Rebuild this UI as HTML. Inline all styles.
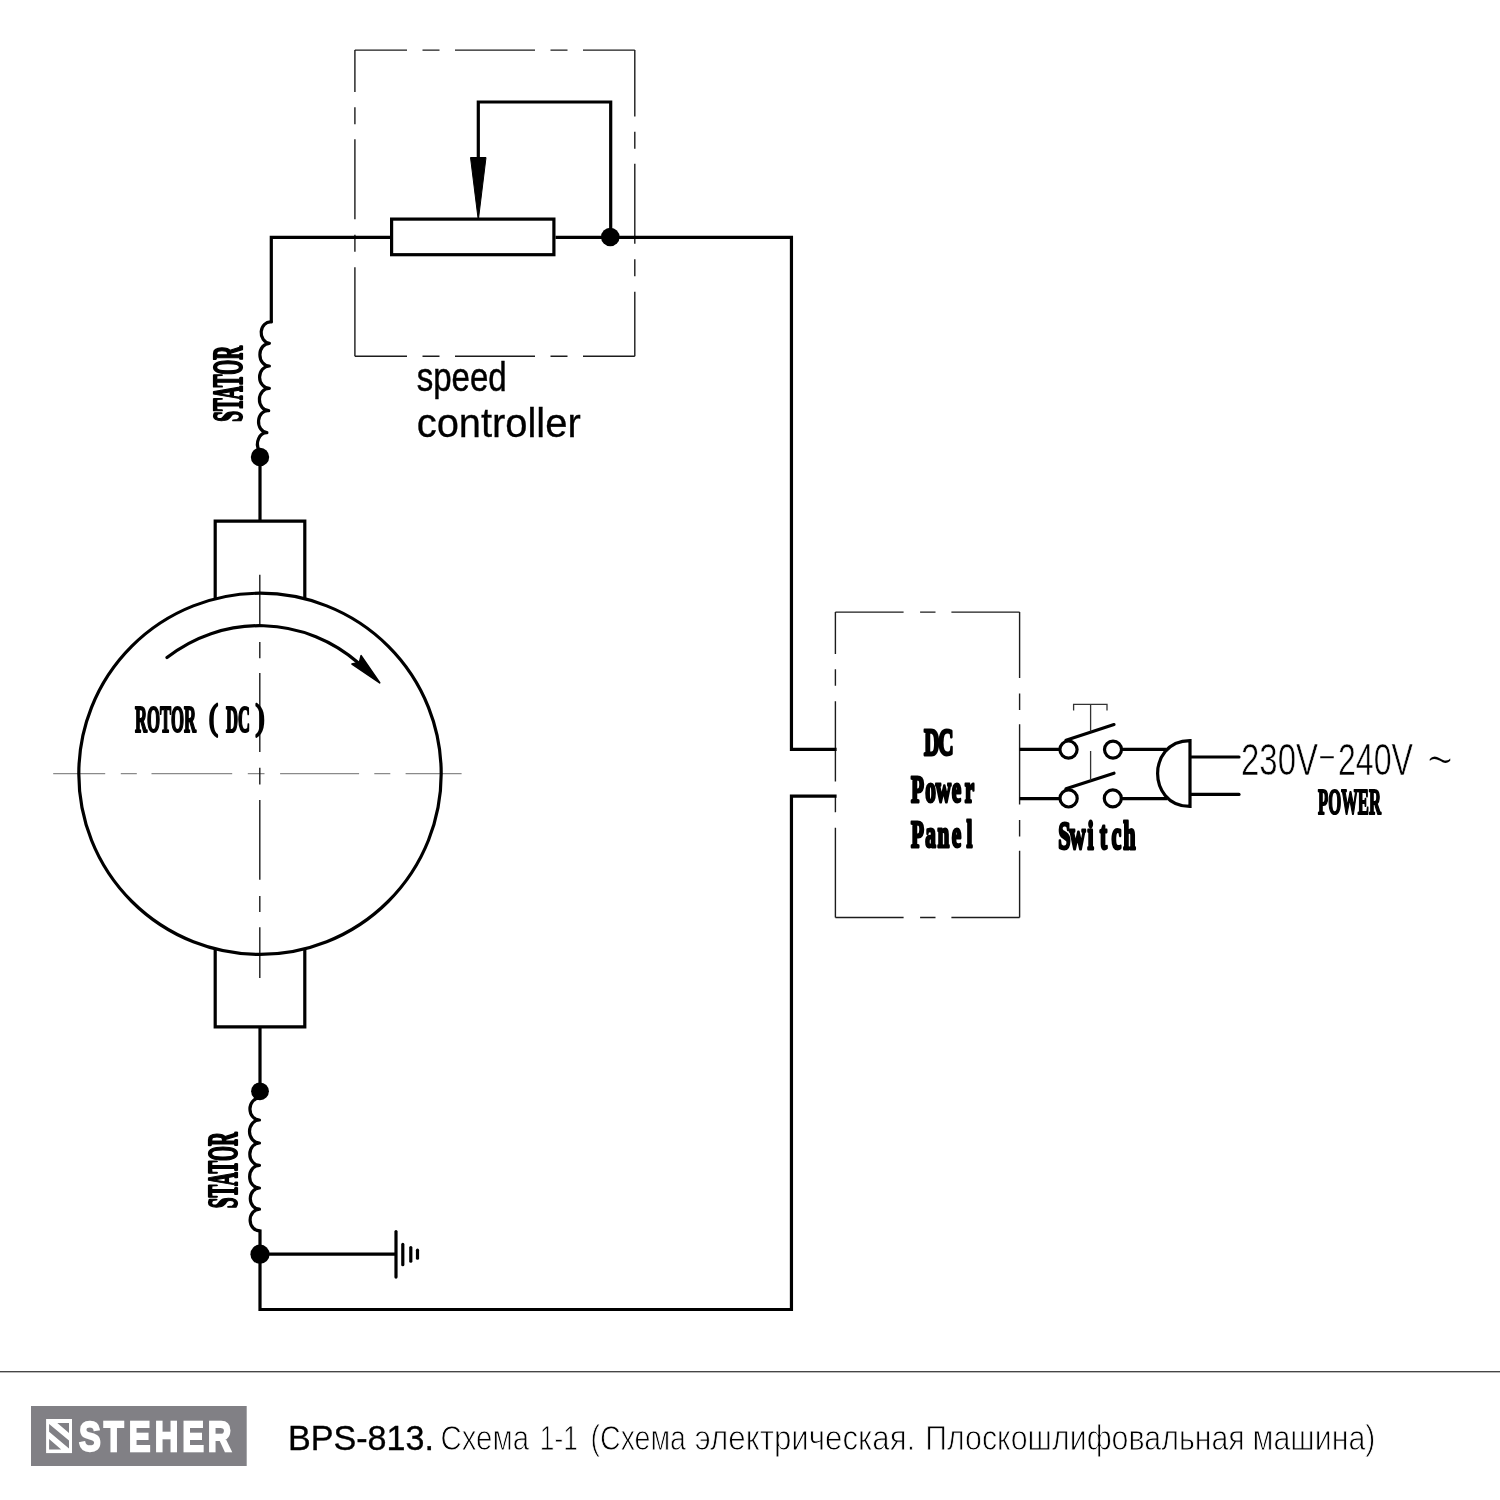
<!DOCTYPE html>
<html lang="ru">
<head>
<meta charset="utf-8">
<title>BPS-813. Схема 1-1</title>
<style>
html,body{margin:0;padding:0;background:#fff;}
body{width:1500px;height:1500px;overflow:hidden;position:relative;}
svg{position:absolute;left:0;top:0;display:block;will-change:transform;}
.w{fill:none;stroke:#000;stroke-width:3.2;stroke-linecap:butt;stroke-linejoin:miter;}
.r{fill:none;stroke:#000;stroke-width:3.2;stroke-linecap:round;stroke-linejoin:round;}
.t{fill:none;stroke:#1c1c1c;stroke-width:1.4;}
.g{fill:none;stroke:#8a8a8a;stroke-width:1.05;}
.serif{font-family:"Liberation Serif",serif;font-weight:bold;fill:#000;stroke:#000;stroke-width:2.2;stroke-linejoin:round;}
.sans{font-family:"Liberation Sans",sans-serif;fill:#000;}
</style>
</head>
<body>
<svg width="1500" height="1500" viewBox="0 0 1500 1500">
<rect width="1500" height="1500" fill="#fff"/>

<!-- speed controller dashed box -->
<g class="t">
<line x1="354.9" y1="50.1" x2="634.8" y2="50.1" stroke-dasharray="52.1 15.5 17 15.5 80 15.5 17 15.5 53.7"/>
<line x1="354.9" y1="356.2" x2="634.8" y2="356.2" stroke-dasharray="52.1 15.5 17 15.5 80 15.5 17 15.5 53.7"/>
<line x1="354.9" y1="50.1" x2="354.9" y2="356.2" stroke-dasharray="41.8 15.4 17 15 80 15.5 17 15.5 90"/>
<line x1="634.8" y1="50.1" x2="634.8" y2="356.2" stroke-dasharray="66.4 15.3 17 15 80 15.5 17 15.5 66"/>
</g>

<!-- DC power panel dashed box -->
<g class="t">
<line x1="835.4" y1="612.1" x2="1019.6" y2="612.1" stroke-dasharray="68.2 16.5 15.4 15.9 68.2"/>
<line x1="835.4" y1="917.5" x2="1019.6" y2="917.5" stroke-dasharray="68.2 16.5 15.4 15.9 68.2"/>
<line x1="835.4" y1="612.1" x2="835.4" y2="917.5" stroke-dasharray="41.8 15.4 16.5 15.4 80.3 15.4 15.4 15.4 90"/>
<line x1="1019.6" y1="612.1" x2="1019.6" y2="917.5" stroke-dasharray="66 15.4 16.5 14.3 80.3 15.4 16.5 14.3 67"/>
</g>

<!-- rotor centre lines -->
<line class="g" x1="53.2" y1="773.6" x2="461.8" y2="773.6" stroke-dasharray="52 15.6 16 14.7 80.7 15.6 16.7 15.6 79 15.2 16 15.3 56"/>
<line class="t" x1="259.8" y1="574.7" x2="259.8" y2="978" stroke-dasharray="49.8 17.6 16.2 14.6 79.2 15.6 16.7 15.6 79.7 16.2 16.1 15.3 51"/>

<!-- main wires -->
<path class="w" d="M260,520 V457"/>
<path class="w" d="M390,237.4 H271.3 V322.5"/>
<path class="r" d="M271.3,322 A8.6,10 0 0 0 269.4,343.3 A8.4,10 0 0 0 269.4,366 A8.8,10 0 0 0 269.4,388.3 A8.6,10 0 0 0 268.7,410.7 A8.4,10 0 0 0 266.9,432.7 A9.4,11.2 0 0 0 259,450"/>
<circle cx="260" cy="457" r="9.2"/>

<!-- potentiometer -->
<rect class="w" x="391.6" y="219.1" width="162.3" height="35.6"/>
<path class="w" d="M555.5,237.4 H791.45 V749.3 H836.6"/>
<path class="w" d="M478.3,160 V102 H610.7 V237"/>
<path d="M470.5,157.5 H486 L478.6,218 H478 Z" stroke="#000" stroke-width="1" stroke-linejoin="round"/>
<circle cx="610.3" cy="237" r="9.3"/>

<!-- rotor -->
<path class="w" d="M215.2,599.5 V521.2 H304.8 V599.5" stroke-width="2.6"/>
<path class="w" d="M215.2,948.2 V1026.8 H304.8 V948.2" stroke-width="2.6"/>
<ellipse class="w" cx="260" cy="773.8" rx="181.2" ry="180.6" stroke-width="3.3"/>
<path class="r" d="M167,657.6 A150,150 0 0 1 358.5,663" stroke-width="2.8"/>
<path d="M379.7,682.8 L361.1,655.6 L359.5,662.3 L352,664.1 Z" stroke="#000" stroke-width="1.6" stroke-linejoin="round"/>

<!-- lower stator -->
<path class="w" d="M260,1028 V1092"/>
<circle cx="260" cy="1091.3" r="8.9"/>
<path class="r" d="M259.5,1098 A8.7,10 0 0 0 259.5,1120 A8.7,10 0 0 0 259.5,1143 A8.7,10 0 0 0 259.5,1165.3 A8.7,10 0 0 0 259.5,1188 A8.7,10 0 0 0 259.5,1209.2 A8.7,10 0 0 0 259.5,1230.8"/>
<path class="w" d="M260,1229.5 V1309.5 H791.45 V796.1 H836.6"/>
<circle cx="260" cy="1254.2" r="9.6"/>
<path class="w" d="M260,1254.2 H396"/>
<path class="r" d="M396,1231.6 V1277.1" stroke-width="3.3"/>
<path class="r" d="M402.8,1244.4 V1264.7" stroke-width="2.3"/>
<path class="r" d="M410.8,1247.6 V1261.2" stroke-width="2.8"/>
<path class="r" d="M417.5,1250.2 V1258.2" stroke-width="2"/>

<!-- switch -->
<path class="w" d="M1019.6,749.4 H1060" stroke-width="2.9"/>
<path class="w" d="M1019.6,798.6 H1060" stroke-width="2.9"/>
<circle class="w" cx="1068.5" cy="749.6" r="8.6" stroke-width="3"/>
<circle class="w" cx="1113" cy="749.6" r="8.5" stroke-width="3"/>
<circle class="w" cx="1068.6" cy="798.4" r="8.6" stroke-width="3"/>
<circle class="w" cx="1112.8" cy="798.4" r="8.5" stroke-width="3"/>
<path class="r" d="M1066,740.2 L1114,724.6" stroke-width="2.8"/>
<path class="r" d="M1066,788.8 L1114,773.2" stroke-width="2.8"/>
<path class="t" style="stroke:#333;stroke-width:1.3" d="M1073.6,710.4 V704.4 H1107 V710.4 M1090.6,704.4 V731.5 M1090.6,751 V780.5"/>
<path class="w" d="M1121.5,749.4 H1166.5" stroke-width="2.9"/>
<path class="w" d="M1121.5,798.6 H1167.5" stroke-width="2.9"/>

<!-- plug -->
<path class="w" d="M1190,740.6 C1167,740.6 1157.6,759 1157.6,773.5 C1157.6,788 1167,806.4 1190,806.4 Z" stroke-width="3" stroke-linejoin="miter"/>
<path class="r" d="M1191,757 H1239" stroke-width="2.9"/>
<path class="r" d="M1191,794.4 H1239" stroke-width="2.9"/>

<!-- footer -->
<rect x="0" y="1371.2" width="1500" height="1.1" fill="#1a1a1a"/>
<rect x="31" y="1406" width="215.7" height="60" fill="#818085"/>


<!-- labels -->
<text class="serif" transform="translate(241.6,421.8) rotate(-90)" font-size="41.5" textLength="76" lengthAdjust="spacingAndGlyphs">STATOR</text>
<text class="serif" transform="translate(237.2,1208.2) rotate(-90)" font-size="42.8" textLength="76" lengthAdjust="spacingAndGlyphs">STATOR</text>
<text class="serif" x="135" y="731.6" font-size="37" textLength="61" lengthAdjust="spacingAndGlyphs">ROTOR</text>
<text class="serif" x="209" y="729" font-size="36" textLength="9" lengthAdjust="spacingAndGlyphs" style="font-weight:normal;stroke-width:2.6">(</text>
<text class="serif" x="226" y="731.6" font-size="37" textLength="24" lengthAdjust="spacingAndGlyphs">DC</text>
<text class="serif" x="255.5" y="729" font-size="36" textLength="9" lengthAdjust="spacingAndGlyphs" style="font-weight:normal;stroke-width:2.6">)</text>
<!--MONO-->
<text class="serif" transform="translate(924.6,755.4) scale(0.560,1)" font-size="38.0" text-anchor="middle" x="12.8 38.3" style="vector-effect:non-scaling-stroke;stroke-width:2.40">DC</text>
<text class="serif" transform="translate(911.0,801.6) scale(0.560,1)" font-size="38.0" text-anchor="middle" x="11.6 34.8 58.0 81.2 104.5" style="vector-effect:non-scaling-stroke;stroke-width:2.40">Power</text>
<text class="serif" transform="translate(911.0,847.4) scale(0.560,1)" font-size="38.0" text-anchor="middle" x="11.6 34.8 58.0 81.2 104.5" style="vector-effect:non-scaling-stroke;stroke-width:2.40">Panel</text>
<text class="serif" transform="translate(1058.0,849.0) scale(0.560,1)" font-size="39.5" text-anchor="middle" x="11.6 34.8 58.0 81.2 104.5 127.7" style="vector-effect:non-scaling-stroke;stroke-width:2.40">Switch</text>
<!--/MONO-->
<text class="serif" x="1318" y="814" font-size="36.5" textLength="63" lengthAdjust="spacingAndGlyphs">POWER</text>
<text class="sans" y="774.5" font-size="44" stroke="#fff" stroke-width="0.6"><tspan x="1241" textLength="77" lengthAdjust="spacingAndGlyphs">230V</tspan><tspan x="1316.3" dy="-5.2" textLength="21.5" lengthAdjust="spacingAndGlyphs" stroke-width="1.5">-</tspan><tspan x="1338" dy="5.2" textLength="75" lengthAdjust="spacingAndGlyphs">240V</tspan></text>
<text class="sans" x="1427" y="782" font-size="66" textLength="26" lengthAdjust="spacingAndGlyphs" stroke="#fff" stroke-width="2.2">~</text>
<text class="sans" x="416.7" y="391" font-size="41" textLength="90" lengthAdjust="spacingAndGlyphs" stroke="#000" stroke-width="0.5">speed</text>
<text class="sans" x="416.7" y="437.3" font-size="41" textLength="164" lengthAdjust="spacingAndGlyphs" stroke="#000" stroke-width="0.3">controller</text>
<g fill="#fff">
<rect x="46.1" y="1419" width="25.9" height="34.1"/>
<path fill="#818085" d="M57.3,1423.1 H69 V1433 Z M49.1,1423.9 L69,1440.6 V1448.6 L49.1,1431.7 Z M49.1,1439.1 L61.2,1449.6 H49.1 Z"/>
<text transform="translate(0,1451.2) scale(0.76,1)" x="118.2 149.5 183.7 219.1 254.3 288.9" y="0" text-anchor="middle" font-family="'Liberation Sans',sans-serif" font-weight="bold" font-size="43" stroke="#fff" stroke-width="2" stroke-linejoin="miter" style="vector-effect:non-scaling-stroke">STEHER</text>
</g>
<!--CAP-->
<text class="sans" x="288" y="1450" font-size="35" textLength="146" lengthAdjust="spacingAndGlyphs" stroke="#000" stroke-width="0.35">BPS-813.</text>
<text class="sans" y="1450" font-size="35" stroke="#fff" stroke-width="0.9"><tspan x="440.5" textLength="88.5" lengthAdjust="spacingAndGlyphs">Схема</tspan> <tspan x="539.8" textLength="38.0" lengthAdjust="spacingAndGlyphs">1-1</tspan> <tspan x="590.5" textLength="95.5" lengthAdjust="spacingAndGlyphs">(Схема</tspan> <tspan x="694.8" textLength="220.5" lengthAdjust="spacingAndGlyphs">электрическая.</tspan> <tspan x="925.2" textLength="319.6" lengthAdjust="spacingAndGlyphs">Плоскошлифовальная</tspan> <tspan x="1252.5" textLength="123.0" lengthAdjust="spacingAndGlyphs">машина)</tspan></text>
<!--/CAP-->
</svg>
</body>
</html>
